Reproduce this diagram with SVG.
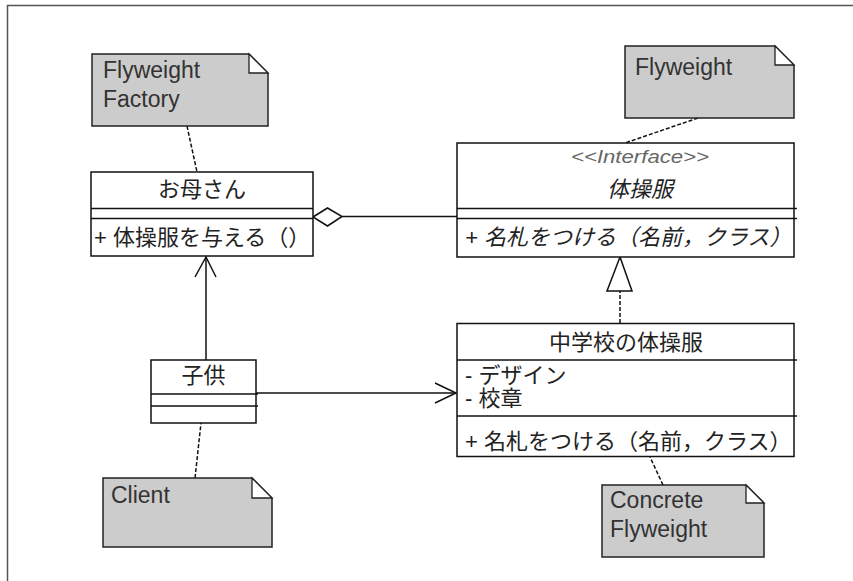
<svg xmlns="http://www.w3.org/2000/svg" width="853" height="581" viewBox="0 0 853 581">
<style>
.frame{fill:none;stroke:#555;stroke-width:1.5}
.cls{fill:#fff;stroke:#111;stroke-width:1.5}
.sep{stroke:#111;stroke-width:1.5}
.note{fill:#cccccc;stroke:#222;stroke-width:1.5;stroke-linejoin:miter}
.fold{fill:#fff;stroke:#222;stroke-width:1.3}
.ntext{font-family:"Liberation Sans",Arial,sans-serif;font-size:23px;fill:#333}
.ctext{font-family:"Liberation Sans","Noto Sans CJK JP",sans-serif;font-size:22px;fill:#222}
.mid{text-anchor:middle}
.ital{font-style:italic}
.stereo{font-family:"Liberation Sans",Arial,sans-serif;font-size:18px;font-style:italic;fill:#666;text-anchor:middle}
.line{fill:none;stroke:#111;stroke-width:1.5}
.dash{fill:none;stroke:#111;stroke-width:1.5;stroke-dasharray:4 2}
.open{fill:none;stroke:#111;stroke-width:1.5}
.tri{fill:#fff;stroke:#111;stroke-width:1.5}
</style>
<rect width="853" height="581" fill="#fff"/>
<path class="frame" d="M7.5,581 V5.5 H853"/>

<g id="connectors">
  <!-- note anchors -->
  <path class="dash" d="M187,126 L197,172"/>
  <path class="dash" d="M698,118 L625,143"/>
  <path class="dash" d="M195,478 L201,423"/>
  <path class="dash" d="M663,485 L650,457"/>
  <!-- 子供 -> お母さん -->
  <path class="line" d="M206,360 V257"/>
  <path class="open" d="M195,277 L206,257 L216,277"/>
  <!-- 子供 -> 中学校の体操服 -->
  <path class="line" d="M256,393 H456"/>
  <path class="open" d="M435,383 L456,393 L435,403"/>
  <!-- aggregation -->
  <path class="line" d="M342,216.5 H457"/>
  <polygon class="tri" points="313,217 327.5,208 342,216.5 327.5,226"/>
  <!-- realization -->
  <path class="dash" d="M620,323 V291"/>
  <polygon class="tri" points="620,257 607,291 632,291"/>
</g>

<g id="note-factory">
  <path class="note" d="M92,54 H249 L268,73 V126 H92 Z"/>
  <path class="fold" d="M249,54 V73 H268 Z"/>
  <text class="ntext" x="103" y="78">Flyweight</text>
  <text class="ntext" x="103" y="107">Factory</text>
</g>

<g id="note-flyweight">
  <path class="note" d="M625,46 H775 L794,65 V118 H625 Z"/>
  <path class="fold" d="M775,46 V65 H794 Z"/>
  <text class="ntext" x="635" y="75">Flyweight</text>
</g>

<g id="note-client">
  <path class="note" d="M103,478 H252 L272,498 V547 H103 Z"/>
  <path class="fold" d="M252,478 V498 H272 Z"/>
  <text class="ntext" x="111" y="503">Client</text>
</g>

<g id="note-concrete">
  <path class="note" d="M602,485 H746 L764,503 V557 H602 Z"/>
  <path class="fold" d="M746,485 V503 H764 Z"/>
  <text class="ntext" x="610" y="508">Concrete</text>
  <text class="ntext" x="610" y="537">Flyweight</text>
</g>

<g id="class-mother">
  <rect class="cls" x="91" y="172" width="222" height="84"/>
  <line class="sep" x1="91" y1="208.5" x2="313" y2="208.5"/>
  <line class="sep" x1="91" y1="218.5" x2="313" y2="218.5"/>
  <text class="ctext mid" x="202" y="197">お母さん</text>
  <text class="ctext" x="94" y="245">+ 体操服を与える（）</text>
</g>

<g id="class-interface">
  <rect class="cls" x="457" y="143" width="337" height="114"/>
  <line class="sep" x1="457" y1="208.5" x2="797" y2="208.5"/>
  <line class="sep" x1="457" y1="218.5" x2="797" y2="218.5"/>
  <text class="stereo" x="640" y="163" textLength="138" lengthAdjust="spacingAndGlyphs">&lt;&lt;Interface&gt;&gt;</text>
  <text class="ctext mid ital" x="640" y="197">体操服</text>
  <text class="ctext ital" x="465" y="245">+ 名札をつける（名前，クラス）</text>
</g>

<g id="class-child">
  <rect class="cls" x="151" y="360" width="105" height="63"/>
  <line class="sep" x1="151" y1="394" x2="258" y2="394"/>
  <line class="sep" x1="151" y1="406" x2="258" y2="406"/>
  <text class="ctext mid" x="203.5" y="383">子供</text>
</g>

<g id="class-concrete">
  <rect class="cls" x="457" y="323.5" width="337" height="133"/>
  <line class="sep" x1="457" y1="360" x2="797" y2="360"/>
  <line class="sep" x1="457" y1="416" x2="797" y2="416"/>
  <text class="ctext mid" x="626" y="350">中学校の体操服</text>
  <text class="ctext" x="465" y="383">- デザイン</text>
  <text class="ctext" x="465" y="406">- 校章</text>
  <text class="ctext" x="465" y="449">+ 名札をつける（名前，クラス）</text>
</g>
</svg>
